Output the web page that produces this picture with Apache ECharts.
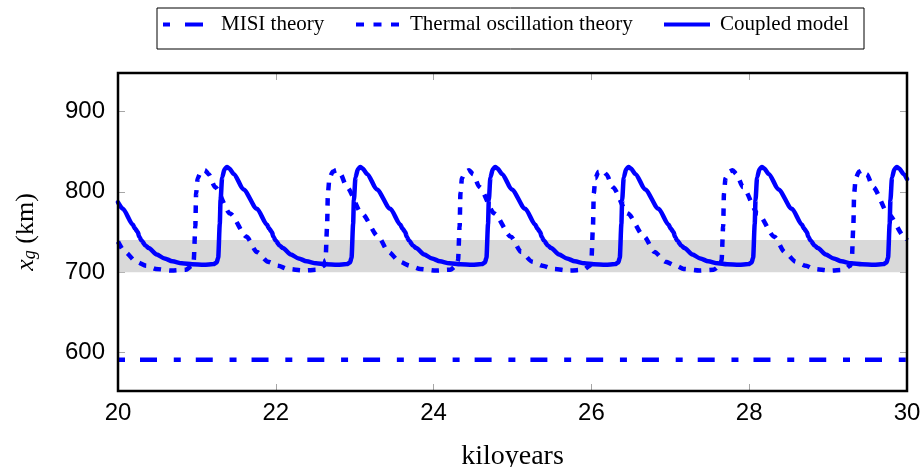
<!DOCTYPE html>
<html><head><meta charset="utf-8">
<script src="https://cdn.jsdelivr.net/npm/echarts@6/dist/echarts.min.js"></script>
<style>html,body{margin:0;padding:0;background:#fff}#c{width:924px;height:467px}</style>
</head><body><div id="c"></div>
<script>
// ---- data ----
const xMin = 20, xMax = 30, xStep = 2;
const yMin = 552, yMax = 948;
const yTickValues = [600, 700, 800, 900];
const bandRange = [700, 740];
const seriesNames = ['MISI theory', 'Thermal oscillation theory', 'Coupled model'];

const misiTheory = [[20, 591], [30, 591]];

const thermalTheory = [
[20.00,738],[20.09,725],[20.23,713],[20.36,708],
[20.48,704],[20.68,702],[20.86,703],[20.94,708],[20.96,715],[20.98,757],[20.99,798],[21.01,817],[21.05,825],[21.10,827],[21.15,822],[21.23,806],[21.42,773],[21.63,744],[21.76,725],[21.90,713],[22.03,708],
[22.15,704],[22.35,702],[22.53,703],[22.61,708],[22.63,715],[22.65,757],[22.66,798],[22.68,817],[22.72,825],[22.77,827],[22.82,822],[22.90,806],[23.09,773],[23.30,744],[23.43,725],[23.57,713],[23.70,708],
[23.83,704],[24.03,702],[24.21,703],[24.29,708],[24.31,715],[24.33,757],[24.34,798],[24.36,817],[24.40,825],[24.45,827],[24.50,822],[24.58,806],[24.77,773],[24.98,744],[25.11,725],[25.25,713],[25.38,708],
[25.52,704],[25.72,702],[25.90,703],[25.98,708],[26.00,715],[26.02,757],[26.03,798],[26.05,817],[26.09,825],[26.14,827],[26.19,822],[26.27,806],[26.46,773],[26.67,744],[26.80,725],[26.94,713],[27.07,708],
[27.17,704],[27.37,702],[27.55,703],[27.63,708],[27.65,715],[27.67,757],[27.68,798],[27.70,817],[27.74,825],[27.79,827],[27.84,822],[27.92,806],[28.11,773],[28.32,744],[28.45,725],[28.59,713],[28.72,708],
[28.82,704],[29.02,702],[29.20,703],[29.28,708],[29.30,715],[29.32,757],[29.33,798],[29.35,817],[29.39,825],[29.44,827],[29.49,822],[29.57,806],[29.76,773],[29.97,744],[30.00,740]
];

const coupledModel = [
[20.00,787],[20.06,779],[20.19,759],[20.21,755],[20.25,750],[20.27,744],[20.30,739],[20.35,733],[20.39,730],[20.49,722],[20.59,717],[20.69,713.5],[20.81,711],
[20.94,709.8],[21.09,709.2],[21.21,710],[21.25,712],[21.27,718],[21.29,760],[21.30,790],[21.32,818],[21.35,828],[21.38,831],[21.41,829],[21.47,822],[21.59,803],[21.76,779],[21.89,759],[21.91,755],[21.95,750],[21.97,744],[22.00,739],[22.05,733],[22.09,730],[22.19,722],[22.29,717],[22.39,713.5],[22.51,711],
[22.63,709.8],[22.78,709.2],[22.90,710],[22.94,712],[22.96,718],[22.98,760],[22.99,790],[23.01,818],[23.04,828],[23.07,831],[23.10,829],[23.16,822],[23.28,803],[23.45,779],[23.58,759],[23.60,755],[23.64,750],[23.66,744],[23.69,739],[23.74,733],[23.78,730],[23.88,722],[23.98,717],[24.08,713.5],[24.20,711],
[24.34,709.8],[24.49,709.2],[24.61,710],[24.65,712],[24.67,718],[24.69,760],[24.70,790],[24.72,818],[24.75,828],[24.78,831],[24.81,829],[24.87,822],[24.99,803],[25.16,779],[25.29,759],[25.31,755],[25.35,750],[25.37,744],[25.40,739],[25.45,733],[25.49,730],[25.59,722],[25.69,717],[25.79,713.5],[25.91,711],
[26.03,709.8],[26.18,709.2],[26.30,710],[26.34,712],[26.36,718],[26.38,760],[26.39,790],[26.41,818],[26.44,828],[26.47,831],[26.50,829],[26.56,822],[26.68,803],[26.85,779],[26.98,759],[27.00,755],[27.04,750],[27.06,744],[27.09,739],[27.14,733],[27.18,730],[27.28,722],[27.38,717],[27.48,713.5],[27.60,711],
[27.72,709.8],[27.87,709.2],[27.99,710],[28.03,712],[28.05,718],[28.07,760],[28.08,790],[28.10,818],[28.13,828],[28.16,831],[28.19,829],[28.25,822],[28.37,803],[28.54,779],[28.67,759],[28.69,755],[28.73,750],[28.75,744],[28.78,739],[28.83,733],[28.87,730],[28.97,722],[29.07,717],[29.17,713.5],[29.29,711],
[29.43,709.8],[29.58,709.2],[29.70,710],[29.74,712],[29.76,718],[29.78,760],[29.79,790],[29.81,818],[29.84,828],[29.87,831],[29.90,829],[29.96,822],[30.00,816]
];

// ---- chart ----
const chart = echarts.init(document.getElementById('c'), null, {renderer: 'canvas'});
const serif = 'Liberation Serif';
const sans = 'Liberation Sans';
const blue = '#0000ff';
const tickStyle = {show: true, inside: true, length: 7, lineStyle: {color: '#a6a6a6', width: 1}};
const legendText = {fontFamily: serif, fontSize: 21, color: '#000'};

function legendFor(name, icon, left, width, pad) {
  return {
    data: [{name: name, icon: icon}],
    left: left, top: 14, padding: 0,
    itemWidth: width, itemHeight: 4.5,
    textStyle: Object.assign({padding: [0, 0, 0, pad]}, legendText),
    itemStyle: {color: blue, borderWidth: 0},
    selectedMode: false
  };
}

const option = {
  animation: false,
  backgroundColor: '#fff',
  grid: {left: 118, right: 17, top: 73, bottom: 76, show: true, borderColor: '#000', borderWidth: 2.5,
         backgroundColor: 'transparent', z: 10, containLabel: false, outerBoundsMode: 'none'},
  graphic: [{
    type: 'rect', left: 154.5, top: 5.5, silent: true,
    shape: {width: 707, height: 41},
    style: {fill: 'none', stroke: '#000', lineWidth: 1}
  }],
  legend: [
    legendFor(seriesNames[0], 'path://M0,0h7v4h-7zM22,0h18v4h-18z', 163, 40, 13),
    legendFor(seriesNames[1], 'path://M0,0h8v4h-8zM17.5,0h8v4h-8zM35,0h8v4h-8z', 356, 43, 6),
    legendFor(seriesNames[2], 'path://M0,0h46v4h-46z', 664, 46, 5)
  ],
  xAxis: [{
    type: 'value', min: xMin, max: xMax, interval: xStep,
    axisLine: {show: false}, splitLine: {show: false},
    axisTick: tickStyle,
    axisLabel: {fontFamily: sans, fontSize: 24, color: '#000', margin: 10},
    name: 'kiloyears', nameLocation: 'middle', nameGap: 52,
    nameTextStyle: {fontFamily: serif, fontSize: 28, color: '#000'}
  }, {
    type: 'value', min: xMin, max: xMax, interval: xStep, position: 'top',
    axisLine: {show: false}, splitLine: {show: false},
    axisTick: tickStyle, axisLabel: {show: false}
  }],
  yAxis: [{
    type: 'value', min: yMin, max: yMax,
    axisLine: {show: false}, splitLine: {show: false},
    axisTick: Object.assign({}, tickStyle, {customValues: yTickValues}),
    axisLabel: {fontFamily: sans, fontSize: 24, color: '#000', margin: 13, customValues: yTickValues},
    name: '{x|x}{g|g}{t| (km)}', nameLocation: 'middle', nameGap: 79, nameRotate: 90,
    nameTextStyle: {rich: {
      x: {fontFamily: serif, fontStyle: 'italic', fontSize: 26, color: '#000', lineHeight: 26},
      g: {fontFamily: serif, fontStyle: 'italic', fontSize: 18, color: '#000', lineHeight: 10, verticalAlign: 'bottom'},
      t: {fontFamily: serif, fontSize: 26, color: '#000', lineHeight: 26}
    }}
  }, {
    type: 'value', min: yMin, max: yMax, position: 'right',
    axisLine: {show: false}, splitLine: {show: false},
    axisTick: Object.assign({}, tickStyle, {customValues: yTickValues}),
    axisLabel: {show: false}
  }],
  series: [{
    name: seriesNames[0], type: 'line', data: misiTheory, symbol: 'none',
    lineStyle: {color: blue, width: 4.5, type: [7, 15, 17, 16.77], cap: 'butt'},
    itemStyle: {color: blue},
    markArea: {silent: true, itemStyle: {color: '#d9d9d9'},
      data: [[{yAxis: bandRange[0]}, {yAxis: bandRange[1]}]]},
    z: 2
  }, {
    name: seriesNames[1], type: 'line', data: thermalTheory, symbol: 'none',
    smooth: 0.25, smoothMonotone: 'x',
    lineStyle: {color: blue, width: 4.5, type: [7.5, 8], cap: 'butt'},
    itemStyle: {color: blue}, z: 3
  }, {
    name: seriesNames[2], type: 'line', data: coupledModel, symbol: 'none',
    smooth: 0.25, smoothMonotone: 'x',
    lineStyle: {color: blue, width: 4.5, cap: 'round', join: 'round'},
    itemStyle: {color: blue}, z: 4
  }]
};
chart.setOption(option);
</script>
</body></html>
